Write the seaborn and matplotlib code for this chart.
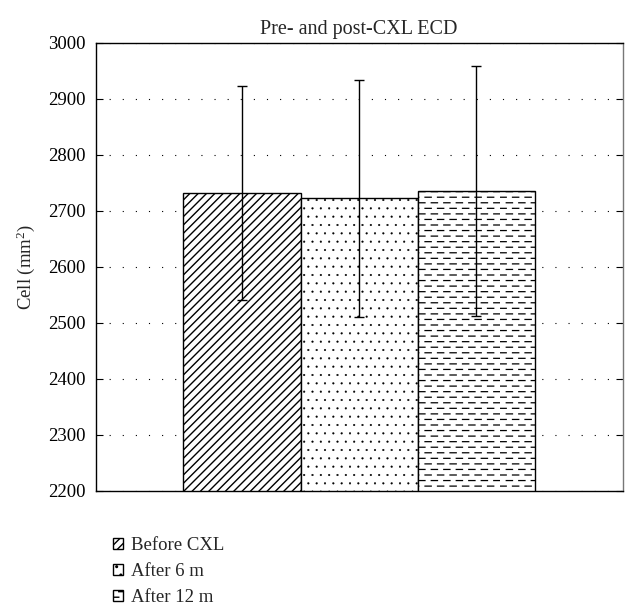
import matplotlib
matplotlib.use("Agg")
import matplotlib.pyplot as plt
import matplotlib.hatch as mhatch
from matplotlib.path import Path
import numpy as np
import pandas as pd
import seaborn as sns

# Endothelial cell density before and after corneal cross-linking
groups = ["Before CXL", "After 6 m", "After 12 m"]
ecd_mean = [2732, 2722, 2735]
ecd_sd = [191, 211, 223]
y_ticks = [2200, 2300, 2400, 2500, 2600, 2700, 2800, 2900, 3000]
hatches = ["////", "..", "---"]


class DashedHorizontalHatch(mhatch.HatchPatternBase):
    """Rows of short horizontal dashes; every other row is shifted half a period."""
    dashes_per_row = 8
    dash_fraction = 0.5

    def __init__(self, hatch, density):
        self.num_lines = int((hatch.count('-') + hatch.count('+')) * density)
        self.num_vertices = self.num_lines * self.dashes_per_row * 2

    def set_vertices_and_codes(self, vertices, codes):
        rows, step = np.linspace(0.0, 1.0, self.num_lines, False, retstep=True)
        rows += step / 2.0
        period = 1.0 / self.dashes_per_row
        length = period * self.dash_fraction
        k = 0
        for i, yv in enumerate(rows):
            shift = (period / 2.0) * (i % 2)
            for j in range(self.dashes_per_row):
                x0 = j * period + shift
                vertices[k] = (x0, yv)
                vertices[k + 1] = (x0 + length, yv)
                codes[k] = Path.MOVETO
                codes[k + 1] = Path.LINETO
                k += 2


mhatch._hatch_types[mhatch._hatch_types.index(mhatch.HorizontalHatch)] = DashedHorizontalHatch

sns.set_style("white")
plt.rcParams["font.family"] = ["Liberation Serif", "DejaVu Serif"]
plt.rcParams["mathtext.fontset"] = "custom"
plt.rcParams["mathtext.rm"] = "Liberation Serif"
plt.rcParams["mathtext.it"] = "Liberation Serif:italic"
plt.rcParams["hatch.linewidth"] = 1.0

W, H = 625, 612
fig = plt.figure(figsize=(W / 100, H / 100), dpi=100)
ax = fig.add_axes([95.5 / W, 1 - 490.7 / H, (622.7 - 95.5) / W, (490.7 - 42.7) / H])

df = pd.DataFrame({"group": groups, "ecd": ecd_mean})
sns.barplot(data=df, x="group", y="ecd", hue="group", palette=["white"] * 3,
            edgecolor="black", linewidth=1.0, width=1.0, errorbar=None,
            legend=False, ax=ax, zorder=2)

bars = list(ax.patches)
for bar, h in zip(bars, hatches):
    bar.set_hatch(h)

# lighter, finer stipple for the middle bar
if hasattr(bars[1], "set_hatch_linewidth"):
    bars[1].set_hatch_linewidth(0.3)
    bars[2].set_hatch_linewidth(0.9)

centers = [b.get_x() + b.get_width() / 2 for b in bars]
ax.errorbar(centers, ecd_mean, yerr=ecd_sd, fmt="none", ecolor="black",
            elinewidth=1.0, capsize=3.8, capthick=1.0, zorder=3)

ax.set_ylim(2200, 3000)
ax.set_xlim(-1.25, 3.25)
ax.set_yticks(y_ticks)
ax.set_xticks([])
ax.set_xlabel("")
ax.set_ylabel("Cell (mm$^{2}$)", fontsize=13.5, labelpad=8)
ax.set_title("Pre- and post-CXL ECD", fontsize=14.5, pad=6)

ax.set_axisbelow(True)
ax.yaxis.grid(True, linestyle=(0, (1, 10.8)), color="black", linewidth=0.8)
ax.tick_params(axis="y", direction="in", length=5, width=0.8, pad=7,
               labelsize=13.5, left=True, right=True, colors="black")

for side in ["left", "bottom", "top"]:
    ax.spines[side].set_color("black")
    ax.spines[side].set_linewidth(1.0)
ax.spines["right"].set_color("#777777")
ax.spines["right"].set_linewidth(1.0)

fig.legend(bars, groups, loc="upper left",
           bbox_to_anchor=(113 / W, 1 - 537 / H), bbox_transform=fig.transFigure,
           frameon=False, fontsize=13.5, handlelength=0.55, handleheight=0.55,
           handletextpad=0.4, labelspacing=0.48, borderpad=0, borderaxespad=0)

fig.savefig("out.png", dpi=100)
